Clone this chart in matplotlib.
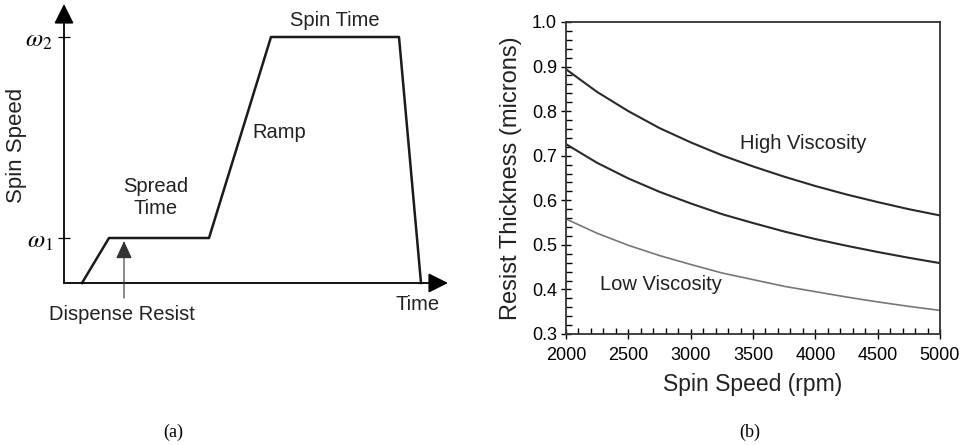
import numpy as np
import matplotlib.pyplot as plt
from matplotlib.ticker import MultipleLocator

plt.rcParams['font.family'] = ['Liberation Sans', 'DejaVu Sans']
plt.rcParams['mathtext.fontset'] = 'stix'

# (a) spin profile, arbitrary units
profile_time = [18, 45, 145, 207, 335, 357]
profile_speed = [0, 45, 45, 246, 246, 0]
omega_levels = [45, 246]
omega_labels = [r'$\omega_1$', r'$\omega_2$']

# (b) thickness vs spin speed
rpm = [2000, 2250, 2500, 2750, 3000, 3250, 3500, 3750, 4000, 4250, 4500, 4750, 5000]
high_visc = [0.894, 0.843, 0.800, 0.762, 0.730, 0.701, 0.676, 0.653, 0.632, 0.613, 0.596, 0.580, 0.566]
mid_visc = [0.726, 0.684, 0.649, 0.619, 0.593, 0.569, 0.549, 0.530, 0.513, 0.498, 0.484, 0.471, 0.459]
low_visc = [0.558, 0.526, 0.499, 0.476, 0.456, 0.437, 0.422, 0.407, 0.395, 0.383, 0.372, 0.362, 0.353]

W, H = 968, 445
fig = plt.figure(figsize=(W / 100, H / 100), dpi=100)

def px_rect(l, t, r, b):
    return [l / W, (H - b) / H, (r - l) / W, (b - t) / H]

# ---------------- panel (a)
ax1 = fig.add_axes(px_rect(64, 5, 447, 283))
ax1.set_xlim(0, 383)
ax1.set_ylim(0, 278)
for s in ax1.spines.values():
    s.set_visible(False)
ax1.set_xticks([])
ax1.set_yticks(omega_levels)
ax1.set_yticklabels(omega_labels, fontsize=18)
ax1.tick_params(axis='y', direction='inout', length=8, width=0.9, pad=4)

ax1.annotate('', xy=(0, 279), xytext=(0, 0), annotation_clip=False,
             arrowprops=dict(arrowstyle='-|>,head_length=1.2,head_width=0.6',
                             color='black', lw=1.3, shrinkA=0, shrinkB=0))
ax1.annotate('', xy=(384, 0), xytext=(0, 0), annotation_clip=False,
             arrowprops=dict(arrowstyle='-|>,head_length=1.2,head_width=0.6',
                             color='black', lw=1.3, shrinkA=0, shrinkB=0))
ax1.plot(profile_time, profile_speed, color='#1a1a1a', lw=1.8, clip_on=False)

ax1.annotate('', xy=(60, 42), xytext=(60, -15), annotation_clip=False,
             arrowprops=dict(arrowstyle='-|>,head_length=1.1,head_width=0.5',
                             color='#333333', lw=0.8, shrinkA=0, shrinkB=0))

ax1.text(-47, 138, 'Spin Speed', rotation=90, ha='center', va='center',
         fontsize=16, color='#222222')
ax1.text(92, 97, 'Spread', ha='center', va='center', fontsize=14.5, color='#222222')
ax1.text(92, 74, 'Time', ha='center', va='center', fontsize=14.5, color='#222222')
ax1.text(215, 150, 'Ramp', ha='center', va='center', fontsize=14.5, color='#222222')
ax1.text(271, 263, 'Spin Time', ha='center', va='center', fontsize=14.5, color='#222222')
ax1.text(354, -22, 'Time', ha='center', va='center', fontsize=14.5, color='#222222')
ax1.text(58, -32, 'Dispense Resist', ha='center', va='center', fontsize=14.5, color='#222222')

# ---------------- panel (b)
ax2 = fig.add_axes(px_rect(566, 22, 940, 334))
ax2.plot(rpm, high_visc, color='#2a2a2a', lw=1.5)
ax2.plot(rpm, mid_visc, color='#2a2a2a', lw=1.5)
ax2.plot(rpm, low_visc, color='#777777', lw=1.2)
ax2.set_xlim(2000, 5000)
ax2.set_ylim(0.3, 1.0)
ax2.xaxis.set_major_locator(MultipleLocator(500))
ax2.xaxis.set_minor_locator(MultipleLocator(100))
ax2.yaxis.set_major_locator(MultipleLocator(0.1))
ax2.yaxis.set_minor_locator(MultipleLocator(0.02))
ax2.yaxis.set_major_formatter(plt.FormatStrFormatter('%.1f'))
for s in ax2.spines.values():
    s.set_linewidth(1.3)
    s.set_color('#333333')
ax2.tick_params(axis='y', which='major', direction='inout', length=7, width=1, labelsize=13, pad=3)
ax2.tick_params(axis='y', which='minor', direction='in', length=4, width=1)
ax2.tick_params(axis='x', which='major', direction='inout', length=7, width=1, labelsize=13, pad=6)
ax2.tick_params(axis='x', which='minor', direction='in', length=4, width=1)
ax2.set_ylabel('Resist Thickness (microns)', fontsize=17, labelpad=7, color='#222222')
ax2.set_xlabel('Spin Speed (rpm)', fontsize=16.5, labelpad=6, color='#222222')

ax2.text(3900, 0.728, 'High Viscosity', ha='center', va='center', fontsize=14.5, color='#222222')
ax2.text(2760, 0.412, 'Low Viscosity', ha='center', va='center', fontsize=14.5, color='#222222')

fig.text(173 / W, 1 - 432 / H, '(a)', ha='center', va='center', fontsize=13,
         family='Liberation Serif')
fig.text(750 / W, 1 - 432 / H, '(b)', ha='center', va='center', fontsize=13,
         family='Liberation Serif')

fig.savefig('out.png', dpi=100)
